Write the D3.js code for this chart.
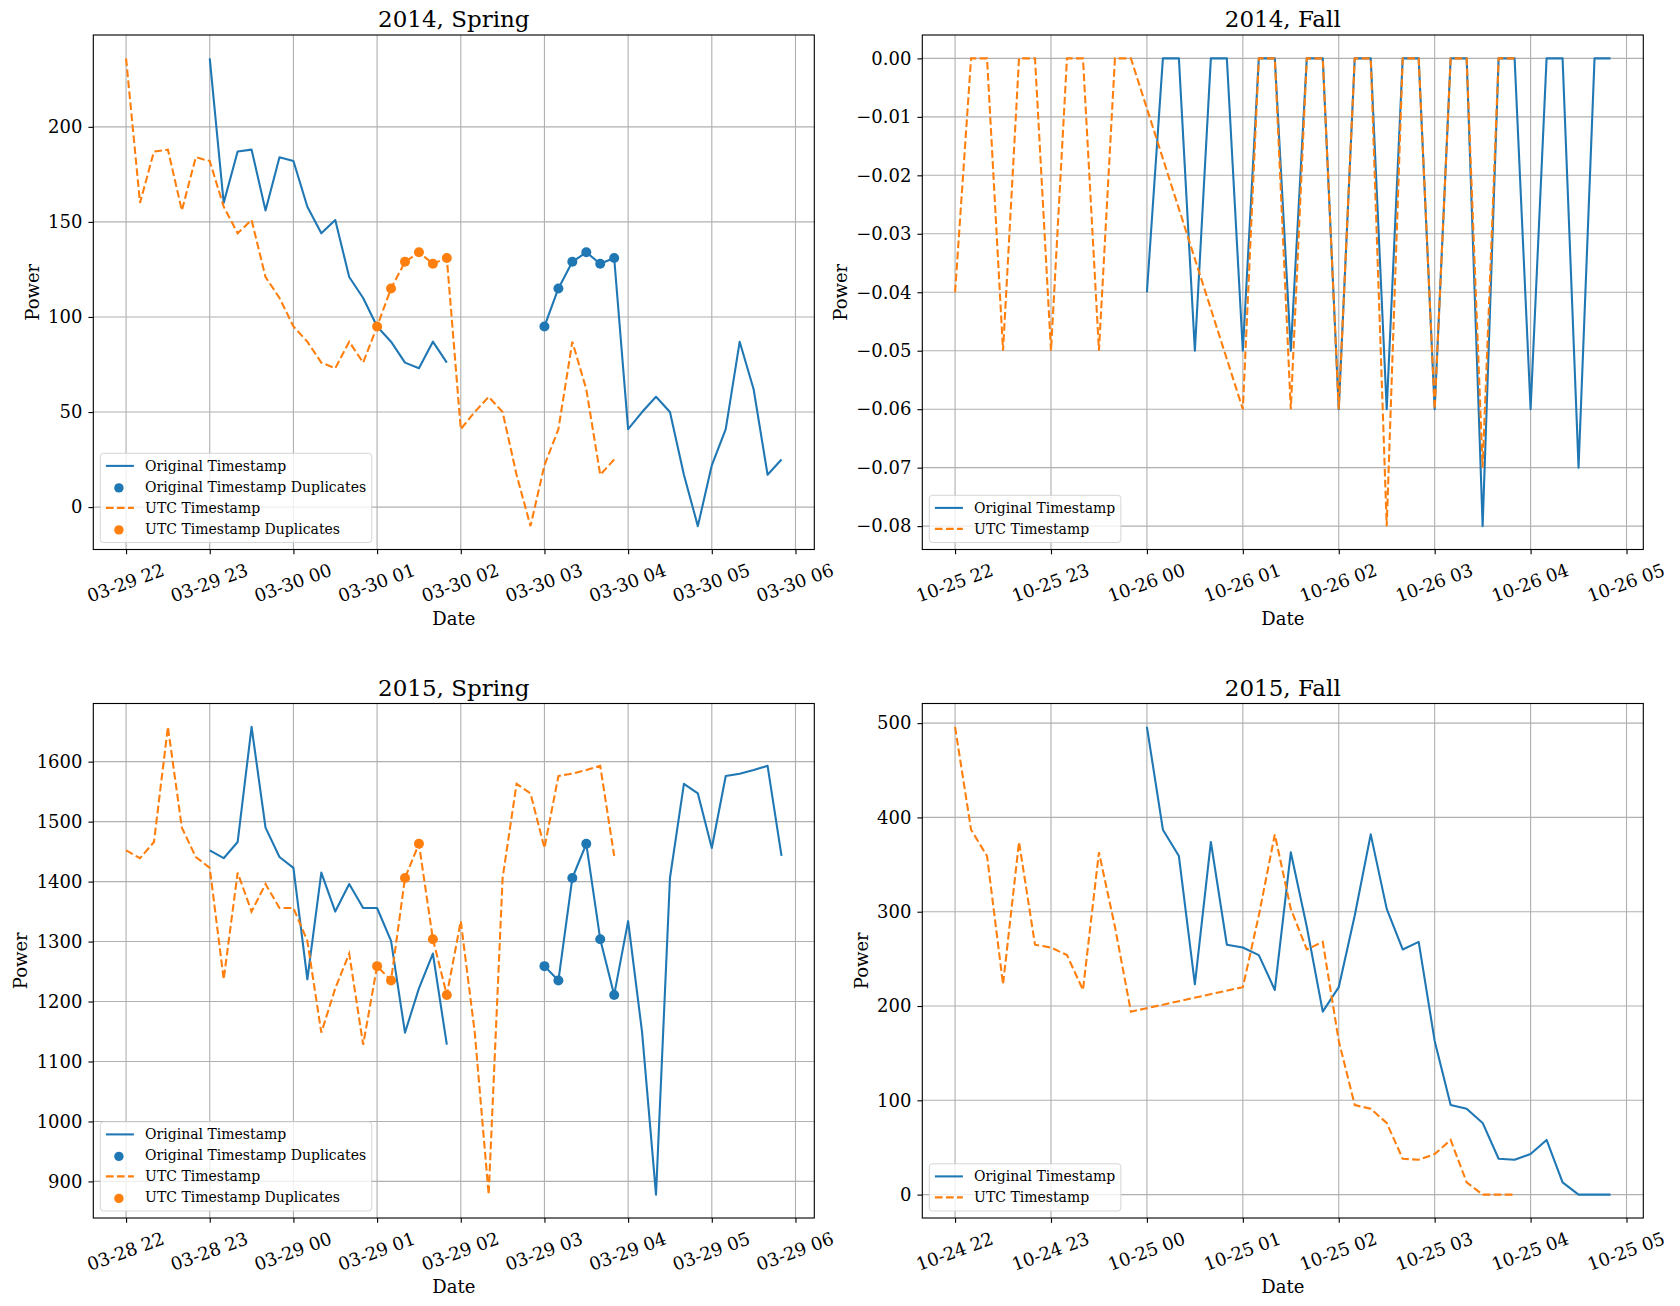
<!DOCTYPE html>
<html><head><meta charset="utf-8">
<script src="https://cdn.jsdelivr.net/npm/d3@7"></script>
<style>
body{margin:0;background:#fff;}
svg text{font-family:"DejaVu Serif", serif; fill:#000;}
</style></head><body>
<svg id="chart" width="1680" height="1306"></svg>
<script>
// ---------------- DATA ----------------
const spring2014Values = [236, 160, 187, 188, 156, 184, 182, 158, 144, 151, 121, 110, 95, 87, 76, 73, 87, 76,
  95, 115, 129, 134, 128, 131,
  41, 50, 58, 50, 17, -10, 22, 41, 87, 62, 17, 25];
const spring2014OrigSegments = [["2014-03-29 23:00", "2014-03-30 01:50"], ["2014-03-30 03:00", "2014-03-30 05:50"]];
const spring2014UtcSegments = [["2014-03-29 22:00", "2014-03-30 03:50"]];
const spring2014DupIdx = [18, 19, 20, 21, 22, 23];
const spring2014YTicks = [0, 50, 100, 150, 200];

const fall2014Values = [-0.04, 0, 0, -0.05, 0, 0, -0.05, 0, 0, -0.05, 0, 0,
  -0.06, 0, 0, -0.06, 0, 0, -0.06, 0, 0, -0.08, 0, 0, -0.06, 0, 0, -0.07, 0, 0];
const fall2014OrigSegments = [["2014-10-26 00:00", "2014-10-26 04:50"]];
const fall2014UtcSegments = [["2014-10-25 22:00", "2014-10-25 23:50"], ["2014-10-26 01:00", "2014-10-26 03:50"]];
const fall2014YTicks = [0, -0.01, -0.02, -0.03, -0.04, -0.05, -0.06, -0.07, -0.08];

const spring2015Values = [1452, 1439, 1466, 1658, 1490, 1441, 1423, 1237, 1415, 1350, 1396, 1356, 1356, 1301, 1148, 1222, 1280, 1128,
  1259, 1235, 1406, 1463, 1304, 1211,
  1334, 1149, 878, 1406, 1563, 1547, 1456, 1576, 1580, 1586, 1593, 1443];
const spring2015OrigSegments = [["2015-03-28 23:00", "2015-03-29 01:50"], ["2015-03-29 03:00", "2015-03-29 05:50"]];
const spring2015UtcSegments = [["2015-03-28 22:00", "2015-03-29 03:50"]];
const spring2015DupIdx = [18, 19, 20, 21, 22, 23];
const spring2015YTicks = [900, 1000, 1100, 1200, 1300, 1400, 1500, 1600];

const fall2015Values = [496, 387, 359, 223, 374, 265, 262, 254, 217, 363, 284, 194,
  220, 296, 382, 303, 260, 268, 163, 95, 91, 76, 38, 37, 43, 58, 13, 0, 0, 0];
const fall2015OrigSegments = [["2015-10-25 00:00", "2015-10-25 04:50"]];
const fall2015UtcSegments = [["2015-10-24 22:00", "2015-10-24 23:50"], ["2015-10-25 01:00", "2015-10-25 03:50"]];
const fall2015YTicks = [0, 100, 200, 300, 400, 500];

const seriesNames = ["Original Timestamp", "Original Timestamp Duplicates", "UTC Timestamp", "UTC Timestamp Duplicates"];
const xLabel = "Date";
const yLabel = "Power";

// ---------------- RENDER ----------------
const BLUE = "#1f77b4", ORANGE = "#ff7f0e";
const W = 721, H = 514.5;
const PX = 100 / 72;
const R = 5;
const svg = d3.select("#chart");
const parseT = d3.timeParse("%Y-%m-%d %H:%M");
const every10 = d3.timeMinute.every(10);

function expand(segs) {
  const pts = [];
  segs.forEach((s, si) => {
    every10.range(parseT(s[0]), d3.timeMinute.offset(parseT(s[1]), 1)).forEach(t => pts.push({t, seg: si}));
  });
  return pts;
}

const panels = [
  {title: "2014, Spring", left: 93.3, top: 35, values: spring2014Values, origSegs: spring2014OrigSegments,
    utcSegs: spring2014UtcSegments, dup: spring2014DupIdx, yTicks: spring2014YTicks, fmt: d3.format("d"), breakOrig: true},
  {title: "2014, Fall", left: 922.3, top: 35, values: fall2014Values, origSegs: fall2014OrigSegments,
    utcSegs: fall2014UtcSegments, dup: null, yTicks: fall2014YTicks, fmt: d3.format(".2f"), breakOrig: false},
  {title: "2015, Spring", left: 93.3, top: 703.5, values: spring2015Values, origSegs: spring2015OrigSegments,
    utcSegs: spring2015UtcSegments, dup: spring2015DupIdx, yTicks: spring2015YTicks, fmt: d3.format("d"), breakOrig: true},
  {title: "2015, Fall", left: 922.3, top: 703.5, values: fall2015Values, origSegs: fall2015OrigSegments,
    utcSegs: fall2015UtcSegments, dup: null, yTicks: fall2015YTicks, fmt: d3.format("d"), breakOrig: false}
];

function drawPanel(p) {
  const g = svg.append("g").attr("transform", `translate(${p.left},${p.top})`);
  const orig = expand(p.origSegs).map((d, i) => ({...d, v: p.values[i]}));
  const utc = expand(p.utcSegs).map((d, i) => ({...d, v: p.values[i]}));
  const [t0, t1] = d3.extent(orig.concat(utc), d => d.t);
  const dt = (t1 - t0) * 0.05;
  const x = d3.scaleTime().domain([new Date(+t0 - dt), new Date(+t1 + dt)]).range([0, W]);
  const [v0, v1] = d3.extent(p.values);
  const dv = (v1 - v0) * 0.05;
  const y = d3.scaleLinear().domain([v0 - dv, v1 + dv]).range([H, 0]);
  const xTicks = x.ticks(d3.timeHour.every(1));

  // grid
  const grid = g.append("g").attr("stroke", "#b0b0b0").attr("stroke-width", 0.8 * PX);
  xTicks.forEach(t => grid.append("line").attr("x1", x(t)).attr("x2", x(t)).attr("y1", 0).attr("y2", H));
  p.yTicks.forEach(v => grid.append("line").attr("x1", 0).attr("x2", W).attr("y1", y(v)).attr("y2", y(v)));

  const line = d3.line().x(d => x(d.t)).y(d => y(d.v));
  const lw = 1.5 * PX;
  // original
  const origGroups = p.breakOrig ? d3.groups(orig, d => d.seg).map(d => d[1]) : [orig];
  origGroups.forEach(arr => g.append("path").attr("d", line(arr)).attr("fill", "none")
    .attr("stroke", BLUE).attr("stroke-width", lw).attr("stroke-linejoin", "round"));
  if (p.dup) p.dup.forEach(i => g.append("circle").attr("cx", x(orig[i].t)).attr("cy", y(orig[i].v)).attr("r", R).attr("fill", BLUE));
  // utc
  g.append("path").attr("d", line(utc)).attr("fill", "none").attr("stroke", ORANGE)
    .attr("stroke-width", lw).attr("stroke-dasharray", `${3.7 * lw},${1.6 * lw}`);
  if (p.dup) p.dup.forEach(i => g.append("circle").attr("cx", x(utc[i].t)).attr("cy", y(utc[i].v)).attr("r", R).attr("fill", ORANGE));

  // spines
  g.append("rect").attr("width", W).attr("height", H).attr("fill", "none").attr("stroke", "#000").attr("stroke-width", 0.8 * PX);

  // axes
  const xa = g.append("g").attr("transform", `translate(0,${H})`)
    .call(d3.axisBottom(x).tickValues(xTicks).tickFormat(d3.timeFormat("%m-%d %H")).tickSize(3.5 * PX).tickSizeOuter(0));
  const ya = g.append("g")
    .call(d3.axisLeft(y).tickValues(p.yTicks).tickFormat(p.fmt).tickSize(3.5 * PX).tickPadding(6).tickSizeOuter(0));
  [xa, ya].forEach(a => {
    a.select(".domain").remove();
    a.attr("font-family", null).attr("font-size", null);
    a.selectAll(".tick line").attr("stroke", "#000").attr("stroke-width", 0.8 * PX);
    a.selectAll("text").style("font-size", "18px").style("font-family", '"DejaVu Serif", serif');
  });
  xa.selectAll("text").attr("y", 0).attr("dy", "0.35em").attr("text-anchor", "middle")
    .attr("transform", "translate(-1,33.4) rotate(-20)");

  // axis labels
  g.append("text").attr("x", W / 2).attr("y", H + 68.5).attr("text-anchor", "middle")
    .attr("dominant-baseline", "central").style("font-size", "18px").text(xLabel);
  let maxW = 0;
  ya.selectAll("text").each(function () { maxW = Math.max(maxW, this.getComputedTextLength()); });
  const lx = -(3.5 * PX + 6 + maxW + 4 * PX + 10.5);
  g.append("text").attr("transform", `translate(${lx},${H / 2}) rotate(-90)`).attr("text-anchor", "middle")
    .attr("dominant-baseline", "central").style("font-size", "18px").text(yLabel);

  // title
  g.append("text").attr("x", W / 2).attr("y", -8).attr("text-anchor", "middle")
    .style("font-size", "23px").text(p.title);

  // legend
  const entries = p.dup
    ? [{n: seriesNames[0], c: BLUE, k: "line"}, {n: seriesNames[1], c: BLUE, k: "dot"},
       {n: seriesNames[2], c: ORANGE, k: "dash"}, {n: seriesNames[3], c: ORANGE, k: "dot"}]
    : [{n: seriesNames[0], c: BLUE, k: "line"}, {n: seriesNames[2], c: ORANGE, k: "dash"}];
  const fs = 14, pad = 0.4 * fs, rowH = fs, gap = 0.5 * fs;
  const boxH = 2 * pad + entries.length * rowH + (entries.length - 1) * gap + 1;
  const lg = g.append("g").attr("transform", `translate(${0.5 * fs},${H - 0.5 * fs - boxH})`);
  const box = lg.append("rect").attr("height", boxH).attr("rx", 3).attr("ry", 3)
    .attr("fill", "rgba(255,255,255,0.8)").attr("stroke", "rgba(204,204,204,0.8)").attr("stroke-width", 1);
  let tw = 0;
  entries.forEach((e, i) => {
    const cy = pad + i * (rowH + gap) + rowH / 2;
    const hx0 = pad, hx1 = pad + 2 * fs;
    if (e.k === "line") lg.append("line").attr("x1", hx0).attr("x2", hx1).attr("y1", cy).attr("y2", cy).attr("stroke", e.c).attr("stroke-width", lw);
    if (e.k === "dash") lg.append("line").attr("x1", hx0).attr("x2", hx1).attr("y1", cy).attr("y2", cy).attr("stroke", e.c).attr("stroke-width", lw).attr("stroke-dasharray", `${3.7 * lw},${1.6 * lw}`);
    if (e.k === "dot") lg.append("circle").attr("cx", (hx0 + hx1) / 2 - 1).attr("cy", cy + 1).attr("r", 4.7).attr("fill", e.c);
    const t = lg.append("text").attr("x", hx1 + 0.8 * fs).attr("y", cy).attr("dominant-baseline", "central")
      .style("font-size", fs + "px").text(e.n);
    tw = Math.max(tw, t.node().getComputedTextLength());
  });
  box.attr("width", pad + 2 * fs + 0.8 * fs + tw + pad);
}

panels.forEach(drawPanel);
</script>
</body></html>
